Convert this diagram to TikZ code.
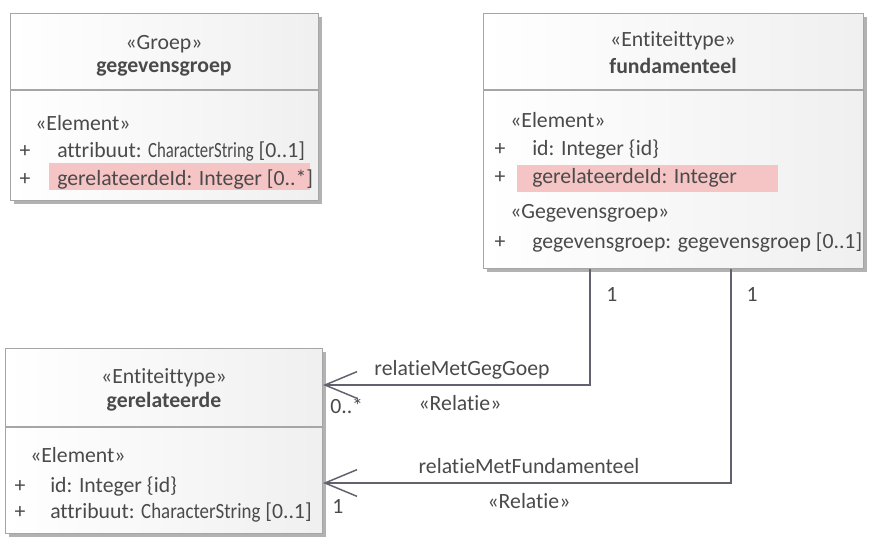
\documentclass[tikz,border=0pt]{standalone}
\usepackage{fontspec}
\setmainfont{Carlito}[Ligatures=NoCommon]
\usetikzlibrary{arrows.meta,shadows}
\definecolor{umllijn}{HTML}{62626E}
\definecolor{umltekst}{HTML}{4A4A4A}
\definecolor{umlroze}{HTML}{F5C4C4}

\begin{document}
\begin{tikzpicture}[x=0.75pt,y=-0.75pt,>={Straight Barb[length=24pt,width=20pt]},
  klasse/.style={draw=gray!70,line width=0.8pt,left color=white,right color=black!6,anchor=north west,inner sep=0pt,
    drop shadow={shadow xshift=2.5pt,shadow yshift=-2.5pt,fill=black!30,opacity=1}},
  tekst/.style={text=umltekst,inner sep=0pt,font=\fontsize{16.3}{19}\selectfont},
  midden/.style={tekst,anchor=base},
  links/.style={tekst,anchor=base west},
  kop/.style={tekst,anchor=base,font=\fontsize{16.3}{19}\selectfont\bfseries},
  relatie/.style={draw=umllijn,line width=1.1pt}]
\useasboundingbox (0,0) rectangle (882,547);

% klassen
\node[klasse,minimum width=231pt,minimum height=140.25pt] (groep) at (10,13) {};
\node[klasse,minimum width=285pt,minimum height=191.25pt] (fund) at (483,13) {};
\node[klasse,minimum width=237.75pt,minimum height=138.75pt] (gerel) at (5,348) {};
\draw[gray!70,line width=0.8pt] (groep.west |- 0,90) -- (groep.east |- 0,90);
\draw[gray!70,line width=0.8pt] (fund.west |- 0,90) -- (fund.east |- 0,90);
\draw[gray!70,line width=0.8pt] (gerel.west |- 0,427) -- (gerel.east |- 0,427);

% markering
\fill[umlroze] (49,163) rectangle (310,190);
\fill[umlroze] (517,165) rectangle (778,192);

% gegevensgroep
\node[midden] (groepst) at (164,49) {«Groep»};
\node[kop] (groepnaam) at (164,72) {gegevensgroep};
\node[links] (groepel) at (35,130) {«Element»};
\node[midden] (groepp1) at (25,157) {+};
\node[links] (groepa1) at (57,157) {attribuut: \scalebox{0.77}[1]{CharacterString} [0..1]};
\node[midden] (groepp2) at (25,185) {+};
\node[links] (groepa2) at (57,185) {gerelateerdeId: Integer [0..*]};

% fundamenteel
\node[midden] (fundst) at (673,46) {«Entiteittype»};
\node[kop] (fundnaam) at (673,73) {fundamenteel};
\node[links] (fundel) at (510,127) {«Element»};
\node[midden] (fundp1) at (500,155) {+};
\node[links] (funda1) at (532,155) {id: Integer \{id\}};
\node[midden] (fundp2) at (500,183) {+};
\node[links] (funda2) at (532,183) {gerelateerdeId: Integer};
\node[links] (fundgg) at (510,218) {«Gegevensgroep»};
\node[midden] (fundp3) at (500,248) {+};
\node[links] (funda3) at (532,248) {gegevensgroep: gegevensgroep [0..1]};

% gerelateerde
\node[midden] (gerelst) at (164,383) {«Entiteittype»};
\node[kop] (gerelnaam) at (164,407) {gerelateerde};
\node[links] (gerelel) at (30,462) {«Element»};
\node[midden] (gerelp1) at (20,492) {+};
\node[links] (gerela1) at (50,492) {id: Integer \{id\}};
\node[midden] (gerelp2) at (20,518) {+};
\node[links] (gerela2) at (50,518) {attribuut: \scalebox{0.87}[1]{CharacterString} [0..1]};

% relaties
\coordinate (knik1) at (590,385);
\coordinate (knik2) at (731,483);
\draw[relatie,->] (fund.south -| knik1) |- (knik1 -| gerel.east);
\draw[relatie,->] (fund.south -| knik2) |- (knik2 -| gerel.east);

\node[midden] (mult1) at (612,301) {1};
\node[midden] (mult2) at (752,301) {1};
\node[midden] (rol1) at (462,375) {relatieMetGegGoep};
\node[links] (mult3) at (330,413) {0..*};
\node[midden] (st1) at (460,410) {«Relatie»};
\node[midden] (rol2) at (529,473) {relatieMetFundamenteel};
\node[midden] (st2) at (529,508) {«Relatie»};
\node[links] (mult4) at (332,513) {1};
\end{tikzpicture}
\end{document}
